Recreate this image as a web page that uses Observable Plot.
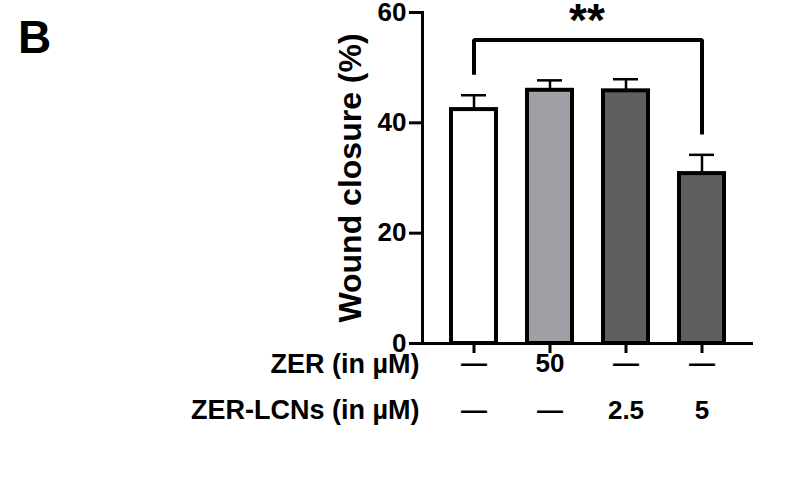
<!DOCTYPE html>
<html>
<head>
<meta charset="utf-8">
<script src="https://cdn.jsdelivr.net/npm/d3@7"></script>
<script src="https://cdn.jsdelivr.net/npm/@observablehq/plot@0.6"></script>
<style>
  body { margin: 0; background: #fff; }
  #wrap { position: relative; width: 800px; height: 489px; }
  #panel { position: absolute; left: 18px; top: 14px; font: bold 46px "Liberation Sans", Arial, sans-serif; line-height: 1; }
</style>
</head>
<body>
<div id="wrap"><div id="panel">B</div></div>
<script>
const groups = ["control", "ZER 50", "ZER-LCNs 2.5", "ZER-LCNs 5"];
const means = [42.4, 45.9, 45.8, 30.8];
const errors = [2.6, 1.8, 2.1, 3.4];
const fills = ["#ffffff", "#a09fa5", "#5f5f5f", "#5f5f5f"];
const zerRow = ["—", "50", "—", "—"];
const lcnRow = ["—", "—", "2.5", "5"];
const rowLabels = ["ZER (in µM)", "ZER-LCNs (in µM)"];
const yTicks = [0, 20, 40, 60];
const yTitle = "Wound closure (%)";
const sigText = "**";
const bracketTop = 55;
const bracketLeftEnd = 48.7;
const bracketRightEnd = 37.9;

const data = groups.map((g, i) => ({group: g, mean: means[i], err: errors[i], fill: fills[i], zer: zerRow[i], lcn: lcnRow[i]}));
const bracket = [
  {group: groups[0], y: bracketLeftEnd},
  {group: groups[0], y: bracketTop},
  {group: groups[3], y: bracketTop},
  {group: groups[3], y: bracketRightEnd}
];

const chart = Plot.plot({
  width: 800,
  height: 489,
  marginLeft: 422,
  marginRight: 47,
  marginTop: 12,
  marginBottom: 146,
  style: {fontFamily: "'Liberation Sans', Arial, sans-serif", fontWeight: "bold", color: "#000", background: "transparent", overflow: "visible"},
  x: {type: "band", domain: groups, paddingInner: 0.413, paddingOuter: 0.37, axis: null},
  y: {domain: [0, 60], axis: null},
  marks: [
    Plot.ruleX(data, {x: "group", y1: "mean", y2: d => d.mean + d.err, stroke: "#000", strokeWidth: 2.5}),
    Plot.tickY(data, {x: "group", y: d => d.mean + d.err, stroke: "#000", strokeWidth: 2.5, insetLeft: 10, insetRight: 10}),
    Plot.barY(data, {x: "group", y: "mean", fill: "fill", stroke: "#000", strokeWidth: 4}),
    Plot.ruleY([0], {stroke: "#000", strokeWidth: 3}),
    Plot.frame({anchor: "left", stroke: "#000", strokeWidth: 3}),
    Plot.axisY({ticks: yTicks, tickSize: 13, tickPadding: 3, fontSize: 26, strokeWidth: 3, label: null}),
    Plot.axisX({tickSize: 10, tickFormat: () => "", strokeWidth: 3, label: null}),
    Plot.text([yTitle], {frameAnchor: "left", textAnchor: "middle", rotate: -90, dx: -72, fontSize: 32, fontWeight: "bold"}),
    Plot.line(bracket, {x: "group", y: "y", stroke: "#000", strokeWidth: 4, strokeLinejoin: "miter", strokeLinecap: "butt"}),
    Plot.text([sigText], {x: () => groups[0], y: () => bracketTop, dx: 113, dy: -4, lineAnchor: "bottom", fontSize: 46, fontWeight: "bold"}),
    Plot.text(data, {x: "group", text: "zer", frameAnchor: "bottom", dy: 28, fontSize: 26, fontWeight: "bold"}),
    Plot.text(data, {x: "group", text: "lcn", frameAnchor: "bottom", dy: 75, fontSize: 26, fontWeight: "bold"}),
    Plot.text([rowLabels[0]], {frameAnchor: "bottom-left", dx: -3, dy: 29, textAnchor: "end", fontSize: 27, fontWeight: "bold"}),
    Plot.text([rowLabels[1]], {frameAnchor: "bottom-left", dx: -3, dy: 75, textAnchor: "end", fontSize: 27, fontWeight: "bold"})
  ]
});
document.getElementById("wrap").appendChild(chart);
</script>
</body>
</html>
